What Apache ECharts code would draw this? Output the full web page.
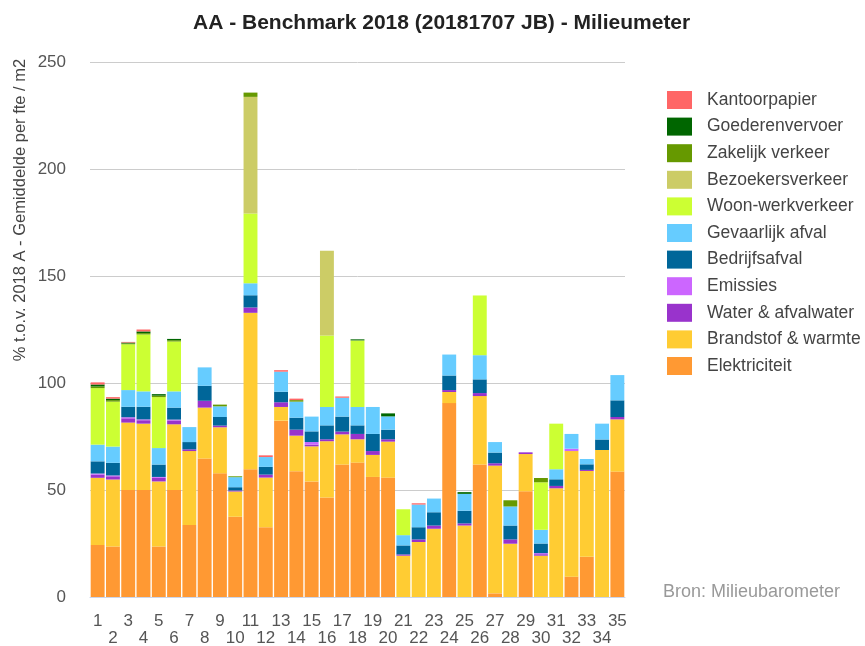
<!DOCTYPE html>
<html lang="nl">
<head>
    <meta charset="UTF-8">
    <title>AA - Benchmark 2018 - Milieumeter</title>
    <style>
        html, body { margin: 0; padding: 0; background: #fff; }
        #main { width: 865px; height: 646px; }
    </style>
</head>
<body>
<div id="main"></div>
<script src="https://cdn.jsdelivr.net/npm/echarts@6/dist/echarts.min.js"></script>
<script>
    // categorieën (organisaties 1..35)
    const categories = ['1','2','3','4','5','6','7','8','9','10','11','12','13','14','15','16','17','18',
        '19','20','21','22','23','24','25','26','27','28','29','30','31','32','33','34','35'];

    // waarden per thema, van onder naar boven gestapeld
    const elektriciteit = [24.3,23.6,50,50,23.6,50,33.6,64.7,57.8,37.5,59.7,32.6,82.4,58.8,54,46.5,61.9,62.8,
        56.1,55.8,0,0,0,90.6,0,61.9,1.7,0,49.4,0,0,9.5,18.8,0,58.6];
    const brandstof = [31.4,31.3,31.5,31,30.4,30.7,34.6,23.8,21.5,11.8,73.1,23.2,6.4,16.6,16.4,26.3,14.1,10.9,
        10.3,16.8,19.3,25.7,31.9,5.2,33.4,32.0,59.7,24.9,17.4,19.3,50.8,58.7,40.1,68.7,24.4];
    const water = [1.5,1.5,2.0,1.6,1.7,1.8,0.8,3.2,0.8,0.5,2.5,1.4,2.2,2.8,0.8,0.9,1.3,2.5,
        1.8,1.1,0.6,1.2,1.5,0.9,1.0,1.4,1.1,2.0,0.8,0.7,1.1,0,0.5,0,1.1];
    const emissies = [0.5,0.4,0.5,0.4,0.4,0.4,0,0,0,0,0,0,0,0,1.2,0,0,0,
        0,0,0,0,0,0,0,0,0,0,0,0.5,0,1.1,0,0,0];
    const bedrijfsafval = [5.7,5.9,4.9,5.9,5.8,5.6,3.4,7.0,4.0,1.5,5.7,3.6,4.9,5.6,5.0,6.5,7.0,4.0,
        8.0,4.5,4.2,5.7,6.2,6.8,5.9,6.4,5.0,6.5,0,4.5,3.1,0,2.6,4.9,7.8];
    const gevaarlijk = [7.8,7.6,7.8,7.2,7.7,7.6,7.0,8.6,5.0,4.7,5.6,4.6,9.4,7.5,6.9,8.6,8.8,8.6,
        12.6,6.2,4.8,10.6,6.4,9.8,7.9,11.3,4.9,8.9,0,6.4,4.7,6.9,2.5,7.4,11.8];
    const woonwerk = [26.4,21.0,21.4,26.6,23.8,23.3,0,0,0,0,32.6,0,0,0,0,33.4,0,31.1,
        0,0,12.1,0,0,0,0,27.9,0,0,0,22.2,21.3,0,0,0,0];
    const bezoekers = [0,0,0,0,0,0,0,0,0,0,54.5,0,0,0,0,39.6,0,0,
        0,0,0,0,0,0,0,0,0,0,0,0,0,0,0,0,0];
    const zakelijk = [0.8,0.7,0.4,0.6,0.7,0.6,0,0,0.8,0.4,2.0,0,0,0.7,0,0,0,0,
        0,0,0,0,0,0,0,0,0,2.9,0,2.0,0,0,0,0,0];
    const goederen = [0.9,0.7,0.4,0.8,0.7,0.6,0,0,0,0,0,0,0,0,0,0,0,0.5,
        0,1.4,0,0,0,0,0.8,0,0,0,0,0,0,0,0,0,0];
    const kantoorpapier = [1.0,0.7,0.3,0.9,0,0,0,0,0,0,0,0.8,0.7,0.7,0,0,0.6,0,
        0,0,0,0.6,0,0,0,0,0,0,0,0,0,0,0,0,0];

    // naam, data, kleur
    const themes = [
        ['Elektriciteit', elektriciteit, '#ff9933'],
        ['Brandstof & warmte', brandstof, '#ffcc33'],
        ['Water & afvalwater', water, '#9933cc'],
        ['Emissies', emissies, '#cc66ff'],
        ['Bedrijfsafval', bedrijfsafval, '#006699'],
        ['Gevaarlijk afval', gevaarlijk, '#66ccff'],
        ['Woon-werkverkeer', woonwerk, '#ccff33'],
        ['Bezoekersverkeer', bezoekers, '#cccc66'],
        ['Zakelijk verkeer', zakelijk, '#669900'],
        ['Goederenvervoer', goederen, '#006600'],
        ['Kantoorpapier', kantoorpapier, '#ff6666']
    ];

    const myChart = echarts.init(document.getElementById('main'));

    const font = 'Liberation Sans, Arial, sans-serif';

    const option = {
        animation: false,
        textStyle: { fontFamily: font },
        title: [
            {
                text: 'AA - Benchmark 2018 (20181707 JB) - Milieumeter',
                left: 188,
                top: 8,
                textStyle: { fontSize: 21, fontWeight: 'bold', color: '#222', fontFamily: font }
            },
            {
                text: 'Bron: Milieubarometer',
                left: 658,
                top: 578,
                textStyle: { fontSize: 18, fontWeight: 'normal', color: '#999', fontFamily: font }
            }
        ],
        legend: {
            orient: 'vertical',
            left: 662,
            top: 86,
            itemWidth: 25,
            itemHeight: 18,
            itemGap: 8.6,
            icon: 'rect',
            data: themes.map(t => t[0]).reverse(),
            textStyle: { fontSize: 17.5, lineHeight: 18, color: '#444', padding: [0, 0, 0, 10] }
        },
        grid: { left: 90, right: 240, top: 62, bottom: 49, outerBoundsMode: 'none' },
        xAxis: {
            type: 'category',
            data: categories,
            axisLine: { lineStyle: { color: '#ccd6eb' } },
            axisTick: { length: 12, lineStyle: { color: '#ccd6eb' } },
            axisLabel: {
                interval: 0,
                fontSize: 17,
                color: '#555',
                lineHeight: 17,
                margin: 16,
                formatter: (v, i) => (i % 2 ? '\n' + v : v)
            }
        },
        yAxis: {
            type: 'value',
            min: 0,
            max: 250,
            interval: 50,
            axisLine: { show: false },
            axisTick: { show: false },
            axisLabel: { fontSize: 17, color: '#555', margin: 24 },
            splitLine: { lineStyle: { color: '#cccccc' } }
        },
        graphic: [
            {
                type: 'text',
                x: 20,
                y: 210,
                rotation: Math.PI / 2,
                style: {
                    text: '% t.o.v. 2018 A - Gemiddelde per fte / m2',
                    fontSize: 16.5,
                    fill: '#444',
                    fontFamily: font,
                    align: 'center',
                    verticalAlign: 'middle'
                }
            }
        ],
        series: themes.map(t => ({
            name: t[0],
            type: 'bar',
            stack: 'totaal',
            barCategoryGap: '9%',
            data: t[1],
            itemStyle: { color: t[2] }
        }))
    };

    myChart.setOption(option);
</script>
</body>
</html>
